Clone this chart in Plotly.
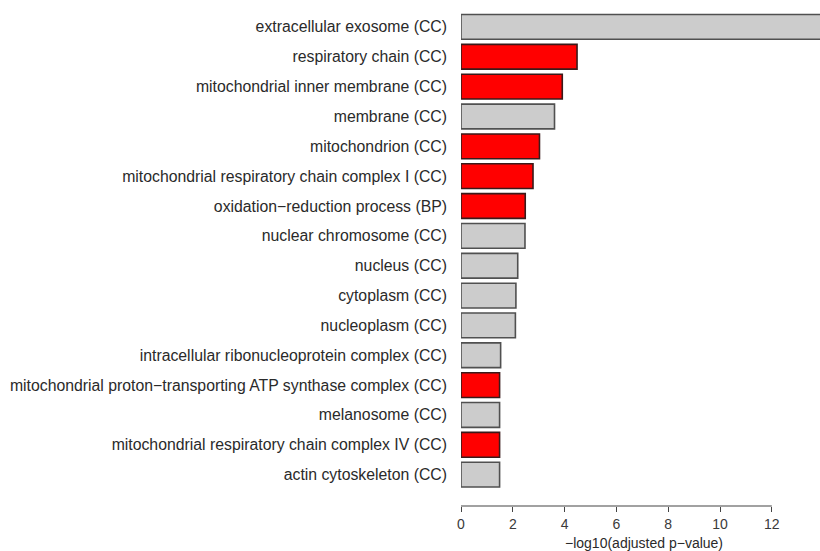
import plotly.graph_objects as go

# GO terms, top to bottom
terms = [
    "extracellular exosome (CC)",
    "respiratory chain (CC)",
    "mitochondrial inner membrane (CC)",
    "membrane (CC)",
    "mitochondrion (CC)",
    "mitochondrial respiratory chain complex I (CC)",
    "oxidation−reduction process (BP)",
    "nuclear chromosome (CC)",
    "nucleus (CC)",
    "cytoplasm (CC)",
    "nucleoplasm (CC)",
    "intracellular ribonucleoprotein complex (CC)",
    "mitochondrial proton−transporting ATP synthase complex (CC)",
    "melanosome (CC)",
    "mitochondrial respiratory chain complex IV (CC)",
    "actin cytoskeleton (CC)",
]
neg_log10_padj = [14.6, 4.48, 3.91, 3.61, 3.03, 2.78, 2.48, 2.47,
                  2.19, 2.12, 2.10, 1.53, 1.49, 1.49, 1.49, 1.49]
# mitochondrial terms are highlighted
highlight = [False, True, True, False, True, True, True, False,
             False, False, False, False, True, False, True, False]
x_ticks = [0, 2, 4, 6, 8, 10, 12]

fill = ["#ff0000" if h else "#cccccc" for h in highlight]
edge = ["#3a1a1a" if h else "#505050" for h in highlight]

fig = go.Figure(go.Bar(
    x=neg_log10_padj,
    y=terms,
    orientation="h",
    marker=dict(color=fill, line=dict(color=edge, width=1.6)),
    width=0.83,
    hoverinfo="x+y",
))

font = "Liberation Sans, Arial, sans-serif"
fig.update_layout(
    width=820, height=551,
    margin=dict(l=461, r=0, t=12, b=45),
    paper_bgcolor="white", plot_bgcolor="white",
    showlegend=False,
    font=dict(family=font, size=15.8, color="#2a2a2a"),
    xaxis=dict(
        range=[0, 13.86],
        tickvals=x_ticks,
        ticktext=[str(v) for v in x_ticks],
        ticks="outside", ticklen=5, tickwidth=1.2, tickcolor="#444444",
        showline=False, showgrid=False, zeroline=False,
        tickfont=dict(size=14, color="#3a3a3a"),
        fixedrange=True,
    ),
    yaxis=dict(
        categoryorder="array", categoryarray=terms,
        range=[16.05, -0.5],
        showline=False, showgrid=False, zeroline=False,
        ticks="", ticklabelstandoff=13,
        tickfont=dict(size=15.8, color="#2a2a2a"),
        fixedrange=True,
    ),
    shapes=[dict(
        type="line", xref="x", yref="paper",
        x0=x_ticks[0], x1=x_ticks[-1], y0=0, y1=0,
        line=dict(color="#444444", width=1.2),
    )],
    annotations=[dict(
        text="−log10(adjusted p−value)",
        xref="paper", yref="paper", x=0.51, y=0,
        xanchor="center", yanchor="top", yshift=-27,
        showarrow=False, font=dict(size=14, color="#2a2a2a"),
    )],
)

fig.write_html("out.html")
